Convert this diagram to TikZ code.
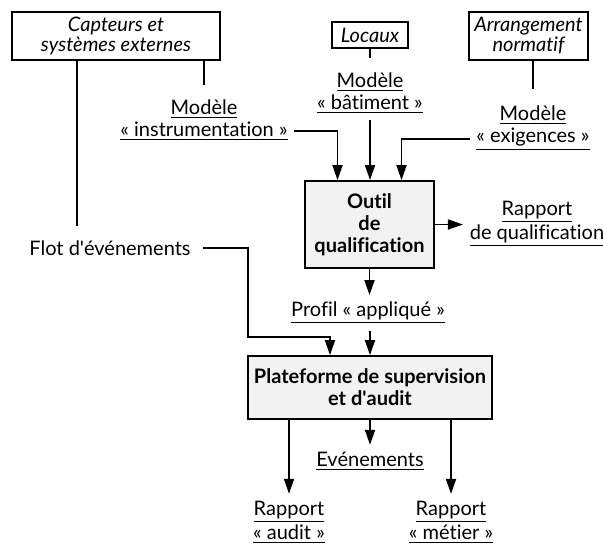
\documentclass[tikz,border=0pt]{standalone}
\usepackage{fontspec}
\setmainfont{Lato}[Ligatures={NoCommon,NoRare}]
\usetikzlibrary{arrows.meta}

\newcommand{\souligne}[1]{\underline{#1}}

\begin{document}
\begin{tikzpicture}[
        x=0.5pt, y=-0.5pt,
        >={Triangle[length=7.5pt,width=5pt]},
        line width=0.9pt,
        every node/.style={font=\fontsize{10}{11}\selectfont, align=center, inner sep=3pt},
        src/.style={draw, rectangle, inner sep=1pt, font=\fontsize{10}{10}\selectfont\itshape},
        proc/.style={draw, rectangle, fill=gray!10, inner sep=1pt, font=\fontsize{10}{11}\selectfont\bfseries}
    ]
        \useasboundingbox (0,0) rectangle (603,543);

        % sources
        \node[src, minimum width=104pt, minimum height=24pt] (capteurs) at (116,36) {Capteurs et\\systèmes externes};
        \node[src, minimum width=38pt, minimum height=13pt] (locaux) at (370,35) {Locaux};
        \node[src, minimum width=59.5pt, minimum height=24pt] (arrang) at (528.5,36) {Arrangement\\normatif};

        % modeles
        \node (minstr) at (204,120) {\souligne{Modèle}\\\souligne{«\ instrumentation\ »}};
        \node (mbat) at (370,93) {\souligne{Modèle}\\\souligne{«\ bâtiment\ »}};
        \node (mexig) at (533,128) {\souligne{Modèle}\\\souligne{«\ exigences\ »}};

        % traitements
        \node[proc, minimum width=64.5pt, minimum height=43.5pt] (outil) at (369.5,224.5) {Outil\\de\\qualification};
        \node[proc, minimum width=122pt, minimum height=31.5pt] (plateforme) at (370,387.5) {Plateforme de supervision\\et d\textquotesingle audit};

        % produits
        \node (rqualif) at (537,224) {\souligne{Rapport}\\\souligne{de qualification}};
        \node (profil) at (368,313) {\souligne{Profil «\ appliqué\ »}};
        \node (flot) at (110,248) {Flot d\textquotesingle événements};
        \node (evts) at (370,461) {\souligne{Evénements}};
        \node (raudit) at (289,522) {\souligne{Rapport}\\\souligne{«\ audit\ »}};
        \node (rmetier) at (451,522) {\souligne{Rapport}\\\souligne{«\ métier\ »}};

        \coordinate (flotsrc) at ([xshift=33pt]capteurs.south west);
        \coordinate (flottop) at ([yshift=4pt]flot.north);
        \coordinate (coude) at (248,337);

        \draw (flotsrc) -- (flotsrc |- flottop);
        \draw (capteurs.south -| minstr) -- ([yshift=4pt]minstr.north);
        \draw (locaux.south) -- ([yshift=4pt]mbat.north);
        \draw (arrang.south -| mexig) -- ([yshift=5pt]mexig.north);

        \draw[->] ([yshift=-5.5pt]minstr.east) -| ([xshift=-16pt]outil.north);
        \draw[->] (mbat.south) -- (mbat.south |- outil.north);
        \draw[->] ([yshift=-5.5pt]mexig.west) -| ([xshift=16pt]outil.north);

        \draw[->] (outil.east) -- (outil.east -| rqualif.west);
        \draw[->] (outil.south) -- (outil.south |- profil.north);
        \draw[->] (plateforme.north |- profil.south) -- (plateforme.north);
        \draw[->] ([xshift=3pt]flot.east) -| (coude) -| ([xshift=-20pt]plateforme.north);

        \draw[->] (plateforme.south -| raudit) -- (raudit.north);
        \draw[->] (plateforme.south) -- (evts.north);
        \draw[->] (plateforme.south -| rmetier) -- (rmetier.north);
    \end{tikzpicture}
\end{document}
